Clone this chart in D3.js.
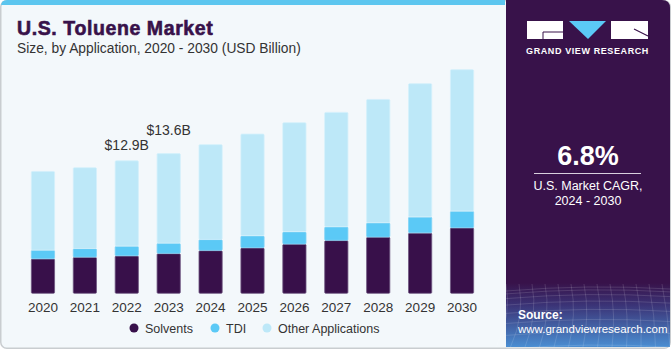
<!DOCTYPE html>
<html>
<head>
<meta charset="utf-8">
<script src="https://cdn.jsdelivr.net/npm/d3@7"></script>
<style>
  body { margin: 0; background: #fff; }
  svg { display: block; font-family: "Liberation Sans", Arial, sans-serif; }
</style>
</head>
<body>
<div id="chart"></div>
<script>
// data (USD billion)
const years = ["2020","2021","2022","2023","2024","2025","2026","2027","2028","2029","2030"]
const solvents = [3.36, 3.52, 3.65, 3.88, 4.17, 4.43, 4.79, 5.15, 5.47, 5.88, 6.37]
const tdi      = [0.84, 0.84, 0.94, 1.00, 1.07, 1.17, 1.20, 1.32, 1.39, 1.55, 1.62]
const other    = [7.67, 7.87, 8.31, 8.72, 9.23, 9.90, 10.61, 11.13, 12.00, 12.96, 13.76]
const seriesNames = ["Solvents", "TDI", "Other Applications"]
const calloutYears = ["2022", "2023"]
const calloutLabels = ["$12.9B", "$13.6B"]

function drawChart() {
  const width = 671
  const height = 350
  const colours = ["#38104a", "#5bc9f6", "#bde8f8"]
  const strokes = ["#6d5580", "#7fd3f6", "#d3f0fb"]

  const table = years.map((y, i) => ({
    year: y,
    "Solvents": solvents[i],
    "TDI": tdi[i],
    "Other Applications": other[i],
  }))
  const stacked = d3.stack().keys(seriesNames)(table)

  const svg = d3.select("#chart").append("svg")
    .attr("width", width)
    .attr("height", height)

  const defs = svg.append("defs")
  const grad = defs.append("linearGradient")
    .attr("id", "meshFade")
    .attr("x1", 0).attr("y1", 0).attr("x2", 0).attr("y2", 1)
  grad.append("stop").attr("offset", "0%").attr("stop-color", "#38124a")
  grad.append("stop").attr("offset", "35%").attr("stop-color", "#3b3477")
  grad.append("stop").attr("offset", "100%").attr("stop-color", "#4a8ed2")

  // background card
  svg.append("rect")
    .attr("x", 0.75).attr("y", 0.75)
    .attr("width", width - 1.5).attr("height", height - 2.5)
    .attr("rx", 6)
    .attr("fill", "#f3f8fb")
    .attr("stroke", "#c9cdd0")
    .attr("stroke-width", 1.5)

  // blue stripe on top of the chart area
  svg.append("path")
    .attr("d", "M1,6 Q1,0 7,0 L505,0 L505,5 L1,5 Z")
    .attr("fill", "#5cc6ef")

  // right panel
  const px = 506, pw = width - px - 1, ph = 347
  svg.append("path")
    .attr("d", `M${px},0 L${px + pw - 8},0 Q${px + pw},0 ${px + pw},8 L${px + pw},${ph} L${px},${ph} Z`)
    .attr("fill", "#38124a")
  svg.append("rect")
    .attr("x", px).attr("y", 283)
    .attr("width", pw).attr("height", ph - 283)
    .attr("fill", "url(#meshFade)")

  // faint mesh in the panel footer
  const mesh = svg.append("g")
    .attr("stroke", "#ffffff")
    .attr("stroke-opacity", 0.13)
    .attr("fill", "none")
  d3.range(0, 14).forEach(k => {
    const x0 = px + k * 13
    mesh.append("path").attr("d", `M${x0},284 Q${x0 + 6},315 ${x0 - 10 + k * 1.5},${ph}`)
  })
  d3.range(0, 9).forEach(k => {
    const y0 = 287 + k * k * 0.9 + k * 2
    mesh.append("path").attr("d", `M${px},${y0 + 4} Q${px + pw / 2},${y0 - 3} ${px + pw},${y0 + 2}`)
  })

  // logo
  const logo = svg.append("g")
  logo.append("rect").attr("x", 527).attr("y", 21).attr("width", 36).attr("height", 18).attr("fill", "#fff")
  logo.append("path").attr("d", "M543,39 L543,32 L563,32").attr("stroke", "#38124a").attr("stroke-width", 1).attr("fill", "none")
  logo.append("path").attr("d", "M569,21 L606,21 L588,39 Z").attr("fill", "#5bc9f6")
  logo.append("rect").attr("x", 611).attr("y", 21).attr("width", 37).attr("height", 18).attr("fill", "#fff")
  logo.append("path").attr("d", "M634,29 L648,36").attr("stroke", "#38124a").attr("stroke-width", 1.2)
  logo.append("text")
    .attr("x", 587.5).attr("y", 54)
    .attr("text-anchor", "middle")
    .attr("fill", "#fff")
    .style("font-size", "9px")
    .style("font-weight", "bold")
    .style("letter-spacing", "0.6px")
    .text("GRAND VIEW RESEARCH")

  // CAGR block
  svg.append("text")
    .attr("x", 588).attr("y", 165)
    .attr("text-anchor", "middle")
    .attr("fill", "#fff")
    .style("font-size", "27px")
    .style("font-weight", "bold")
    .text("6.8%")
  svg.append("line")
    .attr("x1", 534).attr("x2", 641)
    .attr("y1", 173.5).attr("y2", 173.5)
    .attr("stroke", "#d9d0de").attr("stroke-width", 1)
  svg.append("text")
    .attr("x", 588).attr("y", 190)
    .attr("text-anchor", "middle")
    .attr("fill", "#fff")
    .style("font-size", "12.5px")
    .text("U.S. Market CAGR,")
  svg.append("text")
    .attr("x", 588).attr("y", 205)
    .attr("text-anchor", "middle")
    .attr("fill", "#fff")
    .style("font-size", "12.5px")
    .text("2024 - 2030")

  svg.append("text")
    .attr("x", 518).attr("y", 319)
    .attr("fill", "#fff")
    .style("font-size", "12px")
    .style("font-weight", "bold")
    .text("Source:")
  svg.append("text")
    .attr("x", 518).attr("y", 333)
    .attr("fill", "#fff")
    .style("font-size", "11.5px")
    .text("www.grandviewresearch.com")

  // titles
  svg.append("text")
    .attr("x", 17).attr("y", 35)
    .attr("fill", "#38124a")
    .attr("stroke", "#38124a")
    .attr("stroke-width", 0.6)
    .style("font-size", "19.5px")
    .style("font-weight", "bold")
    .style("letter-spacing", "0.6px")
    .text("U.S. Toluene Market")
  svg.append("text")
    .attr("x", 17).attr("y", 53)
    .attr("fill", "#333")
    .style("font-size", "13.8px")
    .text("Size, by Application, 2020 - 2030 (USD Billion)")

  // scales
  const xScale = d3.scaleBand()
    .domain(years)
    .range([10, 495])
    .paddingInner(0.427)
    .paddingOuter(0.5)

  const yScale = d3.scaleLinear()
    .domain([0, 25])
    .range([293.3, 35.8])

  // bars
  const layers = svg.append("g")
    .selectAll("g")
    .data(stacked)
    .enter().append("g")
      .attr("fill", (d, i) => colours[i])
      .attr("stroke", (d, i) => strokes[i])
      .attr("stroke-width", 0.8)

  layers.selectAll("rect")
    .data(d => d)
    .enter().append("rect")
      .attr("x", d => xScale(d.data.year) + 0.4)
      .attr("y", d => yScale(d[1]) + 0.4)
      .attr("width", xScale.bandwidth() - 0.8)
      .attr("height", d => yScale(d[0]) - yScale(d[1]) - 0.4)
      .attr("rx", 1)

  // total callouts
  const totals = table.map(d => d.Solvents + d.TDI + d["Other Applications"])
  const calloutGap = [10, 18]
  svg.append("g")
    .selectAll("text")
    .data(calloutYears)
    .enter().append("text")
      .attr("x", d => xScale(d) + xScale.bandwidth() / 2)
      .attr("y", (d, i) => yScale(totals[years.indexOf(d)]) - calloutGap[i])
      .attr("text-anchor", "middle")
      .attr("fill", "#333")
      .style("font-size", "14px")
      .text((d, i) => calloutLabels[i])

  // x axis
  const xAxis = svg.append("g")
    .attr("transform", "translate(0,293.3)")
    .call(d3.axisBottom(xScale).tickSize(0).tickPadding(9))
  xAxis.select(".domain").remove()
  xAxis.selectAll("text")
    .attr("fill", "#333")
    .style("font-size", "13.5px")
    .style("font-family", "\"Liberation Sans\", Arial, sans-serif")

  // legend
  const legendX = [134, 215, 267]
  const legend = svg.append("g")
    .selectAll("g")
    .data(seriesNames)
    .enter().append("g")
      .attr("transform", (d, i) => `translate(${legendX[i]},328)`)
  legend.append("circle")
    .attr("r", 4.5)
    .attr("fill", (d, i) => colours[i])
  legend.append("text")
    .attr("x", 11)
    .attr("y", 4.5)
    .attr("fill", "#333")
    .style("font-size", "12.5px")
    .text(d => d)
}
drawChart()
</script>
</body>
</html>
